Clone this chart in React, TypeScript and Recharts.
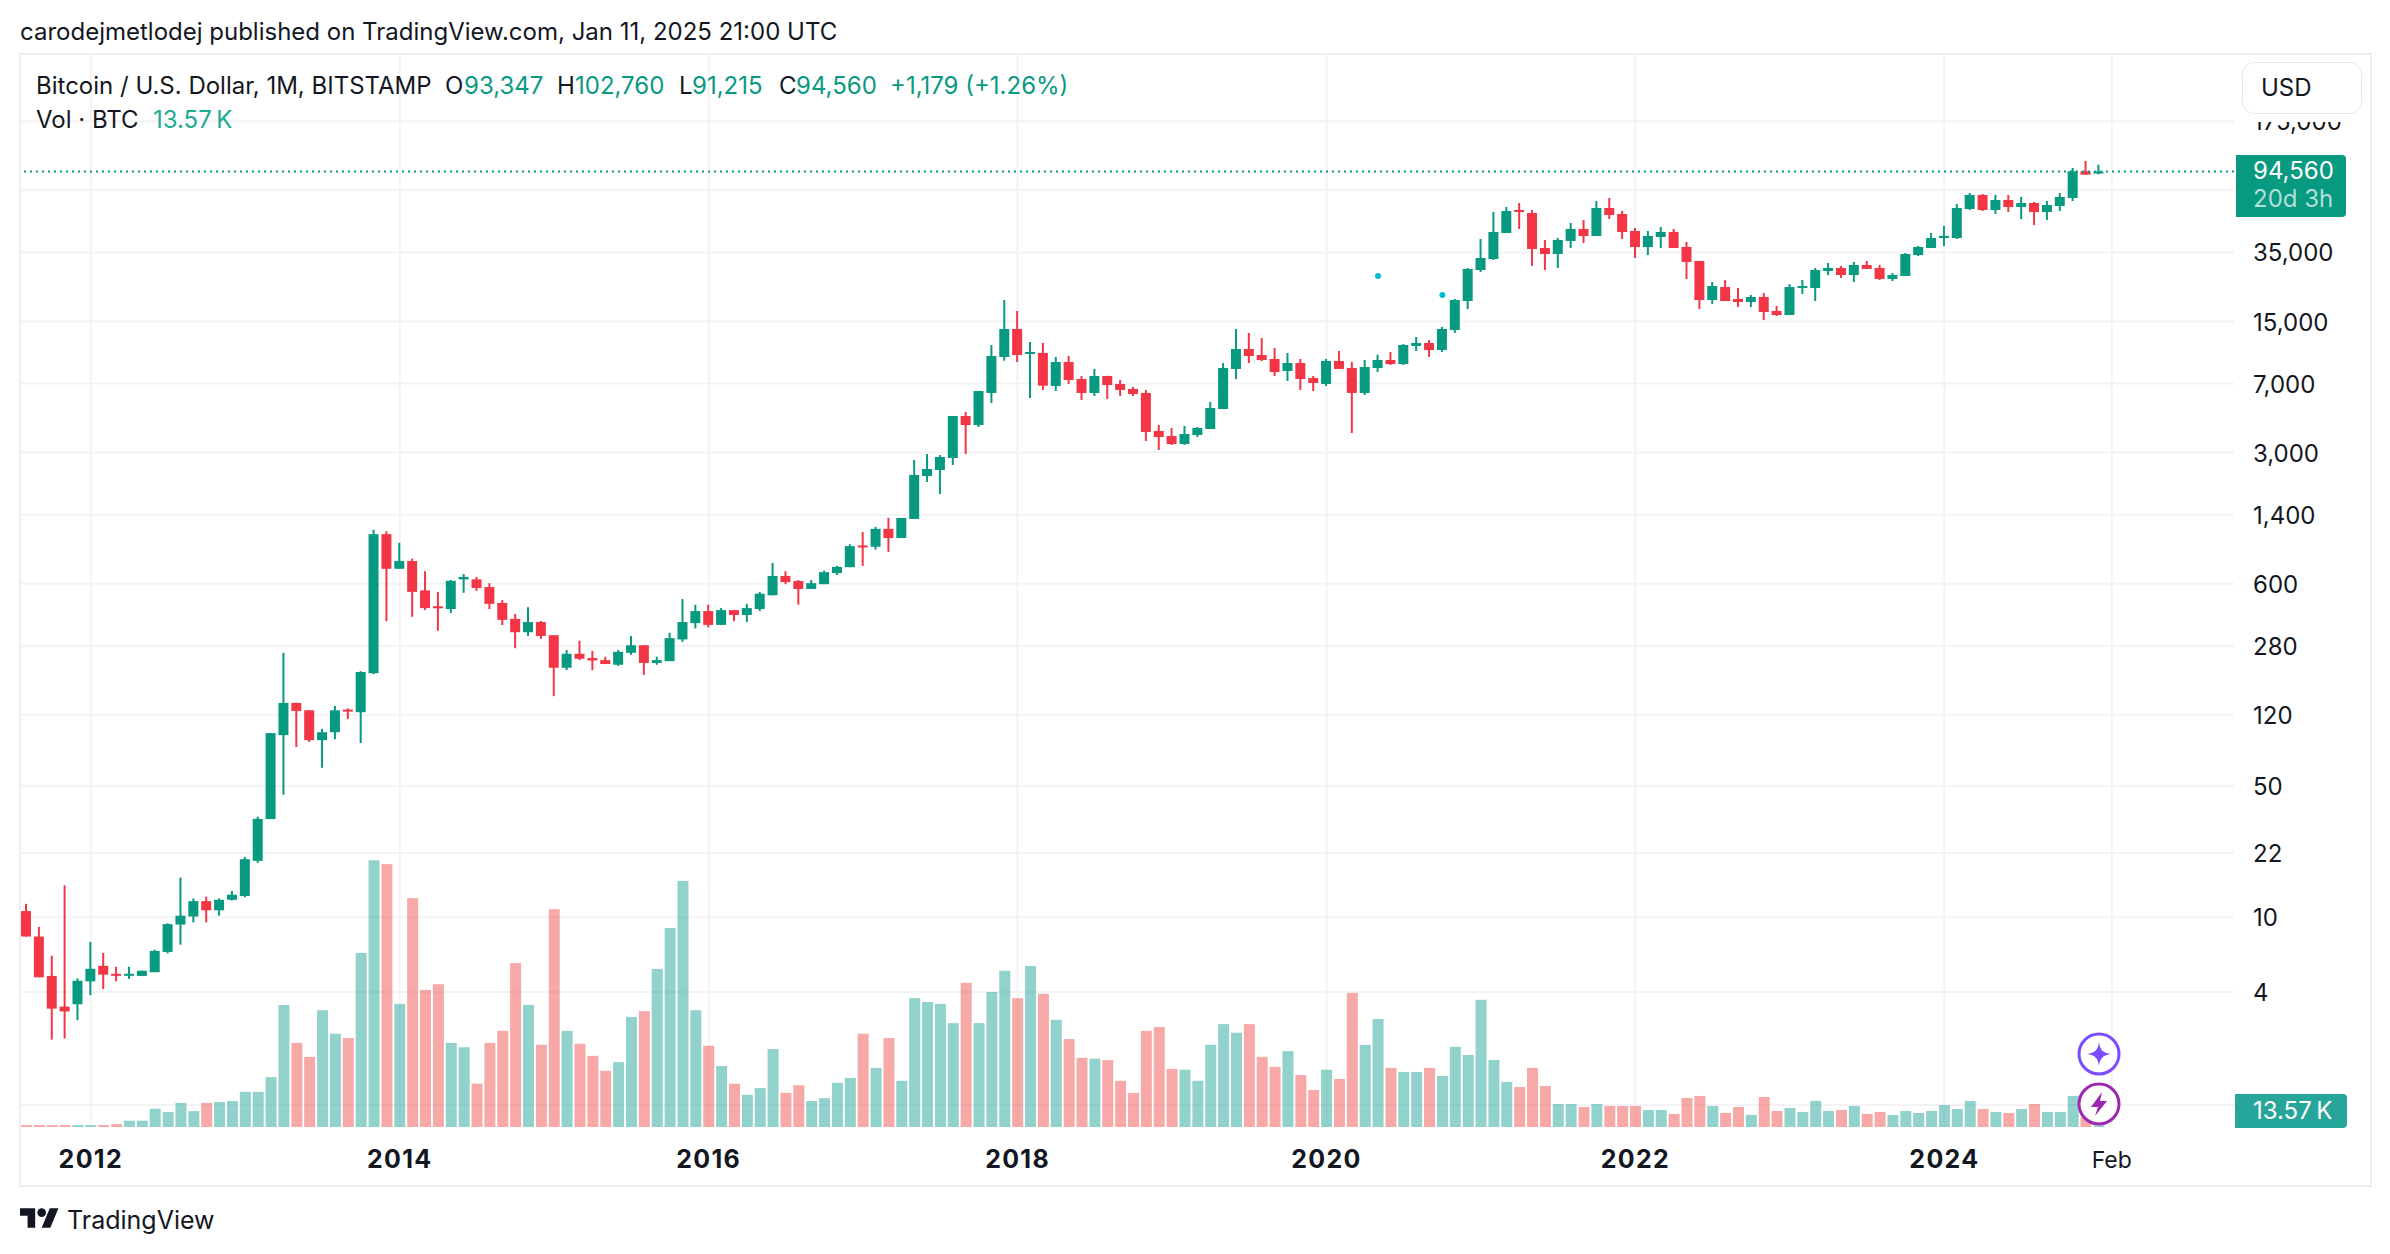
import React from 'react';
import { ComposedChart, Bar, XAxis, YAxis, CartesianGrid, ReferenceLine, ReferenceDot } from 'recharts';

// monthly candles, first one is Aug 2011
const opens = [
  10.8, 7.9, 4.87, 3.34, 3.44, 4.56, 5.51, 5.0, 4.9, 4.87,
  5.1, 6.54, 9.15, 10.1, 12.2, 10.9, 12.4, 13.0, 20, 33.4,
  93.6, 139, 127, 88, 97, 128, 124, 200, 1103, 721,
  793, 553, 455, 440, 633, 633, 576, 474, 390, 331,
  375, 319, 214, 254, 241, 235, 222, 257, 282, 227,
  232, 303, 370, 429, 362, 434, 409, 440, 521, 660,
  620, 563, 597, 684, 735, 960, 945, 1177, 1052, 1329,
  2252, 2424, 2808, 4701, 4210, 6240, 9700, 13680, 10106, 10190,
  6797, 9124, 7406, 6240, 7684, 6966, 6551, 6240, 3912, 3678,
  3336, 3725, 4010, 5124, 8376, 10700, 9943, 9467, 8170, 9012,
  7497, 6966, 9238, 8477, 6240, 8477, 9352, 8903, 11104, 11525,
  10573, 13514, 19290, 28220, 32300, 44440, 58950, 56810, 36980, 34350,
  40300, 46700, 42850, 60400, 56130, 45560, 37430, 42320, 45000, 37430,
  31530, 19530, 22900, 19770, 19050, 20270, 17070, 16240, 22850, 22630,
  27880, 28930, 26540, 30010, 28930, 25280, 26230, 33930, 36980, 41790,
  41790, 59670, 70850, 58950, 66640, 61140, 64230, 57510, 61910, 68290,
  94800, 93347,
];
const closes = [
  7.9, 4.79, 3.26, 3.15, 4.59, 5.32, 4.95, 4.9, 5.0, 5.19,
  6.62, 9.2, 10.2, 12.2, 10.9, 12.4, 13.2, 20.4, 33.5, 95.9,
  139, 126, 88, 97, 127, 126, 203, 1103, 721, 793,
  543, 445, 447, 622, 652, 570, 469, 385, 331, 375,
  316, 214, 254, 239, 234, 224, 260, 282, 227, 235,
  308, 375, 429, 362, 434, 409, 445, 531, 660, 612,
  563, 604, 692, 738, 952, 945, 1177, 1052, 1345, 2280,
  2454, 2843, 4704, 4210, 6392, 9820, 13680, 9943, 10316, 6823,
  9124, 7316, 6240, 7684, 6879, 6471, 6160, 3865, 3635, 3336,
  3770, 4060, 5188, 8477, 10700, 9822, 9352, 8070, 9012, 7406,
  7052, 9238, 8376, 6240, 8581, 9352, 8903, 11240, 11525, 10573,
  13680, 19530, 28580, 32700, 45000, 58220, 57510, 36530, 34350, 40800,
  46700, 42850, 60400, 55430, 45000, 37430, 42850, 45000, 36980, 31140,
  19530, 23200, 19290, 19050, 20270, 16860, 16240, 22900, 23200, 28220,
  28930, 26540, 30010, 28580, 25280, 26540, 34350, 37430, 41790, 42850,
  60400, 70850, 58950, 66640, 61140, 64230, 57510, 62670, 69140, 94800,
  91000, 94560,
];
const highs = [
  11.8, 8.9, 6.24, 14.8, 4.73, 7.4, 6.46, 5.45, 5.45, 5.2,
  6.72, 9.3, 16.3, 12.6, 12.9, 12.6, 13.8, 21, 34.4, 95.9,
  257, 139, 127, 101, 134, 130, 205, 1163, 1143, 992,
  817, 700, 543, 628, 676, 652, 604, 491, 414, 450,
  380, 319, 266, 298, 263, 245, 266, 316, 282, 245,
  329, 497, 464, 464, 445, 434, 469, 543, 775, 700,
  628, 628, 705, 747, 975, 1130, 1205, 1348, 1345, 2741,
  2950, 2913, 4704, 4940, 6392, 11240, 19530, 17060, 11660, 11525,
  9703, 9822, 7684, 8376, 7700, 7316, 6714, 6471, 4210, 4060,
  4159, 4110, 5585, 9012, 13680, 13028, 12249, 10832, 10190, 9467,
  7684, 9467, 10442, 9124, 9352, 9990, 10316, 11370, 12400, 11955,
  14025, 19770, 28930, 41300, 57510, 61140, 64230, 58950, 40800, 41790,
  50260, 52130, 65820, 68290, 58220, 47270, 45560, 47840, 46700, 39800,
  31530, 24370, 24970, 22630, 20770, 21280, 18150, 23770, 24970, 28930,
  30760, 29650, 31140, 31530, 30010, 27200, 34750, 37900, 44440, 48420,
  63450, 72620, 71730, 71000, 70850, 69140, 65030, 65820, 72620, 98700,
  107600, 102760,
];
const lows = [
  7.9, 4.79, 2.23, 2.26, 2.83, 3.85, 4.15, 4.56, 4.7, 4.87,
  5.1, 6.43, 7.15, 9.4, 9.4, 10.2, 12.3, 12.8, 19.5, 33.4,
  45, 80.8, 86, 62.7, 89, 114, 85, 198, 379, 721,
  400, 435, 337, 419, 537, 550, 440, 361, 272, 316,
  305, 151, 208, 235, 208, 224, 219, 251, 196, 222,
  232, 294, 347, 351, 362, 379, 375, 429, 521, 597,
  464, 563, 597, 668, 735, 747, 913, 887, 1052, 1329,
  2092, 1805, 2578, 2951, 4110, 5518, 9275, 9124, 5865, 6471,
  6392, 6966, 5724, 6012, 5795, 6012, 6012, 3460, 3099, 3295,
  3295, 3635, 4010, 5124, 7406, 9012, 9238, 7684, 7228, 6471,
  6392, 6797, 8376, 3815, 6085, 8070, 8795, 8795, 10442, 9703,
  10316, 13028, 17490, 27540, 31920, 44440, 46700, 29650, 28220, 28930,
  36980, 39320, 42850, 52780, 41300, 32700, 33930, 36980, 36980, 25280,
  17490, 18600, 19290, 17930, 17930, 15280, 16050, 16240, 21020, 19290,
  26540, 25590, 24370, 28580, 24970, 24660, 26230, 33510, 36980, 37900,
  41300, 58950, 58220, 56130, 57510, 52780, 49040, 52130, 58220, 65820,
  90600, 91215,
];
// volume in thousands of BTC
const volumes = [
  17, 17, 17, 17, 17, 17, 17, 26, 57, 57,
  165, 135, 218, 144, 218, 226, 235, 318, 318, 452,
  1105, 761, 635, 1057, 844, 805, 1575, 2414, 2379, 1114,
  2071, 1240, 1292, 761, 722, 392, 761, 870, 1483, 1105,
  744, 1971, 870, 753, 644, 509, 587, 996, 1048, 1431,
  1801, 2227, 1057, 735, 552, 392, 291, 352, 705, 309,
  378, 235, 261, 400, 444, 844, 535, 805, 418, 1166,
  1131, 1114, 940, 1305, 940, 1222, 1414, 1166, 1457, 1205,
  970, 796, 626, 618, 605, 418, 309, 870, 905, 526,
  518, 418, 744, 931, 853, 931, 635, 544, 687, 470,
  335, 518, 435, 1214, 743, 978, 535, 498, 498, 535,
  462, 725, 652, 1151, 607, 408, 362, 535, 371, 208,
  208, 181, 208, 190, 190, 190, 154, 154, 118, 263,
  281, 190, 127, 181, 109, 272, 145, 172, 136, 236,
  145, 154, 190, 118, 136, 109, 145, 127, 145, 199,
  163, 236, 163, 136, 127, 163, 208, 136, 136, 281,
  90, 13.57,
];

const priceTicks = [1, 4, 10, 22, 50, 120, 280, 600, 1400, 3000, 7000, 15000, 35000, 75000, 175000];
// these two sit behind the volume and price tags, so only their grid lines show
const coveredTicks = [1, 75000];
const timeTicks = [5, 29, 53, 77, 101, 125, 149, 162];
const timeLabels = ['2012', '2014', '2016', '2018', '2020', '2022', '2024', 'Feb'];
const lastPrice = 94560;
// the two small cyan marks, [month index, price]
const spots = [[105, 26240], [110, 20760]];

const UP = '#089981';
const DOWN = '#f23645';
const TEXT = '#131722';
const LINE = '#f3f3f6';
const FONT = 'Inter, sans-serif';
const monthDomain = [-0.5, 171.5];

const candles = opens.map((open, t) => ({
  t,
  open,
  close: closes[t],
  high: highs[t],
  low: lows[t],
  volume: volumes[t],
}));

const isUp = (d: any) => d.close >= d.open;

const Candle = (props: any) => {
  const { x, y, width, height, payload } = props;
  const h = Math.max(height, 2);
  return <rect x={x} y={y} width={width} height={h} fill={isUp(payload) ? UP : DOWN} />;
};

const VolumeBar = (props: any) => {
  const { x, y, width, height, payload } = props;
  return (
    <rect x={x} y={y} width={width} height={height} fill={isUp(payload) ? '#26a69a' : '#ef5350'} fillOpacity={0.5} />
  );
};

const TimeTick = (props: any) => {
  const { x, y, index } = props;
  const label = timeLabels[index];
  const bold = label !== 'Feb';
  return (
    <text x={x} y={y + 33} textAnchor="middle" fontFamily={FONT} fontSize={bold ? 25 : 23} fontWeight={bold ? 700 : 400} letterSpacing={bold ? 1.3 : 0} fill={TEXT}>
      {label}
    </text>
  );
};

const Label = ({ x, y, color, size = 24, children }: any) => (
  <span style={{ position: 'absolute', left: x, top: y, fontSize: size, lineHeight: '28px', color: color || TEXT, whiteSpace: 'nowrap' }}>
    {children}
  </span>
);

const RoundIcon = ({ cy, color, path }: any) => (
  <svg style={{ position: 'absolute', left: 2077, top: cy - 22 }} width={44} height={44} viewBox="0 0 44 44">
    <circle cx={22} cy={22} r={20} fill="#fff" stroke={color} strokeWidth={3} />
    <path d={path} fill={color} />
  </svg>
);

const App = () => {
  return (
    <div style={{ position: 'absolute', left: 0, top: 0, width: 2390, height: 1254, background: '#fff', fontFamily: FONT, overflow: 'hidden' }}>
      <div style={{ position: 'absolute', left: 19, top: 53, width: 2349, height: 1130, border: '2px solid #eeeff4' }} />

      <div style={{ position: 'absolute', left: 0, top: 0 }}>
        <ComposedChart width={2390} height={1254} data={candles} margin={{ top: 54, right: 0, bottom: 70, left: 20 }}>
          <CartesianGrid xAxisId="time" yAxisId="price" stroke={LINE} strokeWidth={2} horizontalValues={priceTicks} verticalValues={timeTicks} />
          <XAxis
            xAxisId="time"
            type="number"
            dataKey="t"
            domain={monthDomain}
            ticks={timeTicks}
            interval={0}
            height={57}
            axisLine={false}
            tickLine={false}
            tick={<TimeTick />}
          />
          <XAxis xAxisId="wick" type="number" dataKey="t" domain={monthDomain} height={0} hide />
          <XAxis xAxisId="body" type="number" dataKey="t" domain={monthDomain} height={0} hide />
          <YAxis
            yAxisId="price"
            orientation="right"
            scale="log"
            domain={[0.7627, 399900]}
            allowDataOverflow
            ticks={priceTicks}
            interval={0}
            width={156}
            axisLine={false}
            tickLine={false}
            tickSize={0}
            tickMargin={19}
            dy={0.5}
            tick={{ fill: TEXT, fontSize: 24, fontFamily: FONT }}
            tickFormatter={(v: number) => (coveredTicks.includes(v) ? '' : v.toLocaleString('en-US'))}
          />
          <YAxis yAxisId="vol" hide domain={[0, 9711]} />

          <Bar xAxisId="time" yAxisId="vol" dataKey="volume" barSize={11} shape={<VolumeBar />} isAnimationActive={false} />
          <ReferenceLine xAxisId="time" yAxisId="price" y={lastPrice} stroke={UP} strokeWidth={2} strokeDasharray="2 4" />
          <Bar xAxisId="wick" yAxisId="price" dataKey={(d: any) => [d.low, d.high]} barSize={2} shape={<Candle />} isAnimationActive={false} />
          <Bar xAxisId="body" yAxisId="price" dataKey={(d: any) => [Math.min(d.open, d.close), Math.max(d.open, d.close)]} barSize={10} shape={<Candle />} isAnimationActive={false} />
          {spots.map(([t, price]) => (
            <ReferenceDot key={t} xAxisId="time" yAxisId="price" x={t} y={price} r={3} fill="#00bcd4" stroke="none" />
          ))}
        </ComposedChart>
      </div>

      <Label x={20} y={18}>carodejmetlodej published on TradingView.com, Jan 11, 2025 21:00 UTC</Label>

      <Label x={36} y={72}>Bitcoin / U.S. Dollar, 1M, BITSTAMP</Label>
      <Label x={445} y={72}>O</Label>
      <Label x={464} y={72} color={UP}>93,347</Label>
      <Label x={557} y={72}>H</Label>
      <Label x={575} y={72} color={UP}>102,760</Label>
      <Label x={679} y={72}>L</Label>
      <Label x={692} y={72} color={UP}>91,215</Label>
      <Label x={779} y={72}>C</Label>
      <Label x={796} y={72} color={UP}>94,560</Label>
      <Label x={890} y={72} color={UP}>+1,179 (+1.26%)</Label>
      <Label x={36} y={106}>Vol · BTC</Label>
      <Label x={153} y={106} color="#22ab94">13.57{'\u2009'}K</Label>

      {/* top of the price column is blanked down to the 175,000 grid line */}
      <div style={{ position: 'absolute', left: 2235, top: 56, width: 132, height: 66, background: '#fff' }} />
      <div style={{ position: 'absolute', left: 2242, top: 62, width: 118, height: 50, background: '#fff', border: '1.5px solid #e6e8ef', borderRadius: 12 }} />
      <Label x={2261} y={74}>USD</Label>

      <div style={{ position: 'absolute', left: 2236, top: 155, width: 110, height: 62, background: UP, borderRadius: '0 4px 4px 0' }} />
      <Label x={2253} y={157} color="#fff">94,560</Label>
      <Label x={2253} y={185} color="rgba(255,255,255,0.7)">20d 3h</Label>

      <div style={{ position: 'absolute', left: 2235, top: 1094, width: 112, height: 34, background: '#26a69a', borderRadius: '0 4px 4px 0' }} />
      <Label x={2253} y={1097} color="#fff">13.57{'\u2009'}K</Label>

      <RoundIcon cy={1054} color="#7c4dff" path="M22 10 C23 18 26 21 34 22 C26 23 23 26 22 34 C21 26 18 23 10 22 C18 21 21 18 22 10 Z" />
      <RoundIcon cy={1104} color="#9c27b0" path="M25 10 L14 25 L21 25 L18 34 L30 19 L23 19 Z" />

      <svg style={{ position: 'absolute', left: 20, top: 1208 }} width={39} height={20} viewBox="0 4 36 18">
        <path d="M14 22H7V11H0V4h14v18zM28 22h-8l7.5-18h8L28 22z" fill={TEXT} />
        <circle cx={20} cy={8} r={4} fill={TEXT} />
      </svg>
      <Label x={67} y={1206} size={25}>TradingView</Label>
    </div>
  );
};

export default App;
